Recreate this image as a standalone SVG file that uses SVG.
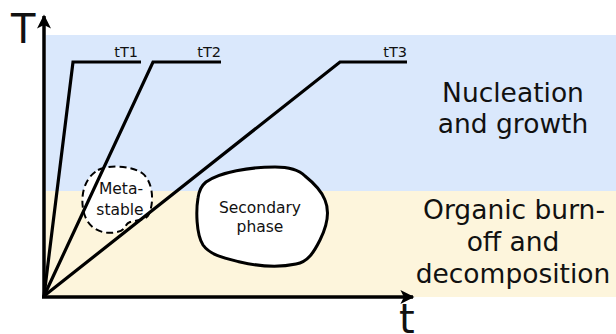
<svg xmlns="http://www.w3.org/2000/svg" width="616" height="334" viewBox="0 0 616 334">
<defs>
<style>
text{font-family:"DejaVu Sans","Verdana",sans-serif;fill:#111}
.band-label{font-size:26.5px;text-anchor:middle}
.curve{fill:none;stroke:#000;stroke-width:3.2;stroke-linejoin:miter}
.curve-label{font-size:14.5px;text-anchor:end}
.blob-label{font-size:15.5px;text-anchor:middle}
.axis{stroke:#000;stroke-width:3.5;fill:none}
</style>
<marker id="arrow" viewBox="0 0 10 10" refX="9" refY="5" markerWidth="5" markerHeight="4" orient="auto" markerUnits="strokeWidth">
<path d="M0,0 L10,5 L0,10 L2.5,5 Z" fill="#000"/>
</marker>
</defs>
<rect width="616" height="334" fill="#fff"/>
<g id="nucleation-region">
<rect x="46" y="35" width="570" height="156" fill="#dae8fc"/>
<text class="band-label" x="513" y="102">Nucleation</text>
<text class="band-label" x="513" y="133">and growth</text>
</g>
<g id="organic-region">
<rect x="46" y="191" width="570" height="106" fill="#fdf5dc"/>
<text class="band-label" x="514" y="219">Organic burn-</text>
<text class="band-label" x="513" y="251">off and</text>
<text class="band-label" x="513" y="283">decomposition</text>
</g>
<g id="metastable">
<path d="M98,170 C108,165 130,165 142,173 C152,180 155,200 149,214 C146,221 136,220 130,222 C124,224 127,230 117,232 C104,235 90,230 85,216 C80,203 81,180 98,170 Z" fill="#fff" stroke="#000" stroke-width="2" stroke-dasharray="7,4"/>
<text class="blob-label" x="121" y="194">Meta-</text>
<text class="blob-label" x="120" y="215">stable</text>
</g>
<g id="secondary-phase">
<path d="M206,182 C220,172 250,167 275,167 C290,167 300,171 305,176 C315,184 322,192 325,200 C330,212 327,226 320,240 C314,252 308,262 296,264 C282,267 262,267 240,262 C224,258 210,255 203,245 C196,234 196,210 198,198 C199,190 201,186 206,182 Z" fill="#fff" stroke="#000" stroke-width="3"/>
<text class="blob-label" x="260" y="213">Secondary</text>
<text class="blob-label" x="260" y="232">phase</text>
</g>
<g id="connectors">
<polyline class="curve" points="44,296 73,62 141,62"/>
<polyline class="curve" points="44,296 153,62 221,62"/>
<polyline class="curve" points="44,296 340,62 407,62"/>
<line class="axis" x1="44" y1="298" x2="44" y2="16" marker-end="url(#arrow)"/>
<line class="axis" x1="42" y1="297" x2="413" y2="297" marker-end="url(#arrow)"/>
</g>
<g id="labels">
<text class="curve-label" x="138" y="57">tT1</text>
<text class="curve-label" x="221" y="57">tT2</text>
<text class="curve-label" x="407" y="57">tT3</text>
<text x="11" y="43" style="font-size:40px">T</text>
<text x="399" y="333" style="font-size:40px">t</text>
</g>
</svg>
